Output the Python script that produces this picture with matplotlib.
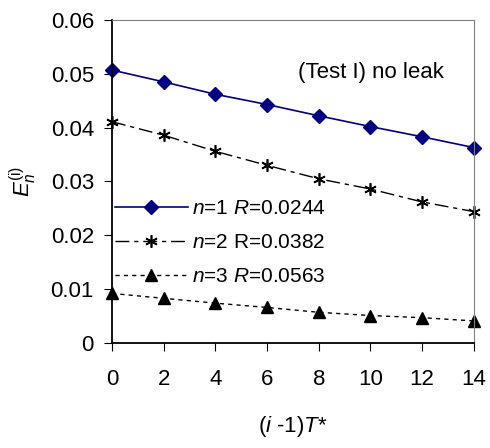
import numpy as np
import matplotlib
matplotlib.use("Agg")
import matplotlib.pyplot as plt

plt.rcParams['font.family'] = ['Liberation Sans', 'DejaVu Sans']
plt.rcParams['mathtext.fontset'] = 'custom'
plt.rcParams['mathtext.rm'] = 'Liberation Sans'
plt.rcParams['mathtext.it'] = 'Liberation Sans:italic'

# data
t = [0, 2, 4, 6, 8, 10, 12, 14]
e1 = [0.0507, 0.0485, 0.0462, 0.0443, 0.0422, 0.0402, 0.0383, 0.0363]
e2 = [0.0411, 0.0386, 0.0356, 0.0330, 0.0305, 0.0286, 0.0262, 0.0244]
e3 = [0.0092, 0.0083, 0.0074, 0.0066, 0.0057, 0.0051, 0.0047, 0.0041]
labels = [r'$n$=1 $R$=0.0244', r'$n$=2 R=0.0382', r'$n$=3 $R$=0.0563']

fig = plt.figure(figsize=(4.9, 4.48), dpi=100)
ax = fig.add_axes([0.2286, 0.2344, 0.7384, 0.7210])

ax.plot(t, e1, color='#000080', lw=1.2, marker='D', ms=7, label=labels[0], clip_on=False)
ax.plot(t, e2, color='black', lw=1.0, dashes=(10, 3.5, 3, 3.5), marker=(6, 2, 0), ms=9,
        mew=1.2, label=labels[1], clip_on=False)
ax.plot(t, e3, color='black', lw=1.0, dashes=(3, 3), marker='^', ms=8.5, label=labels[2], clip_on=False)

ax.set_xlim(0, 14)
ax.set_ylim(0, 0.06)
ax.set_xticks(t)
ax.set_yticks([0, 0.01, 0.02, 0.03, 0.04, 0.05, 0.06])
ax.set_yticklabels(['0', '0.01', '0.02', '0.03', '0.04', '0.05', '0.06'])
ax.tick_params(labelsize=16, direction='out', length=6, color='black')
ax.tick_params(axis='x', pad=13)
ax.tick_params(axis='y', pad=7)
ax.spines['top'].set_color('#808080')
ax.spines['right'].set_color('#808080')
ax.spines['left'].set_linewidth(1.3)
ax.spines['bottom'].set_linewidth(1.3)

ax.set_xlabel(r'($i$ -1)$T$*', fontsize=16, labelpad=17)
ax.set_ylabel(r'$E_n^{(\mathrm{i})}$', fontsize=16, labelpad=8)

ax.text(10, 0.0502, '(Test I) no leak', fontsize=16, ha='center', va='center')

ax.legend(loc='center left', bbox_to_anchor=(0.008, 0.31), frameon=False, fontsize=15,
          handlelength=3.5, handletextpad=0.2, labelspacing=0.72, borderaxespad=0, borderpad=0)

fig.savefig('out.png', dpi=100)
